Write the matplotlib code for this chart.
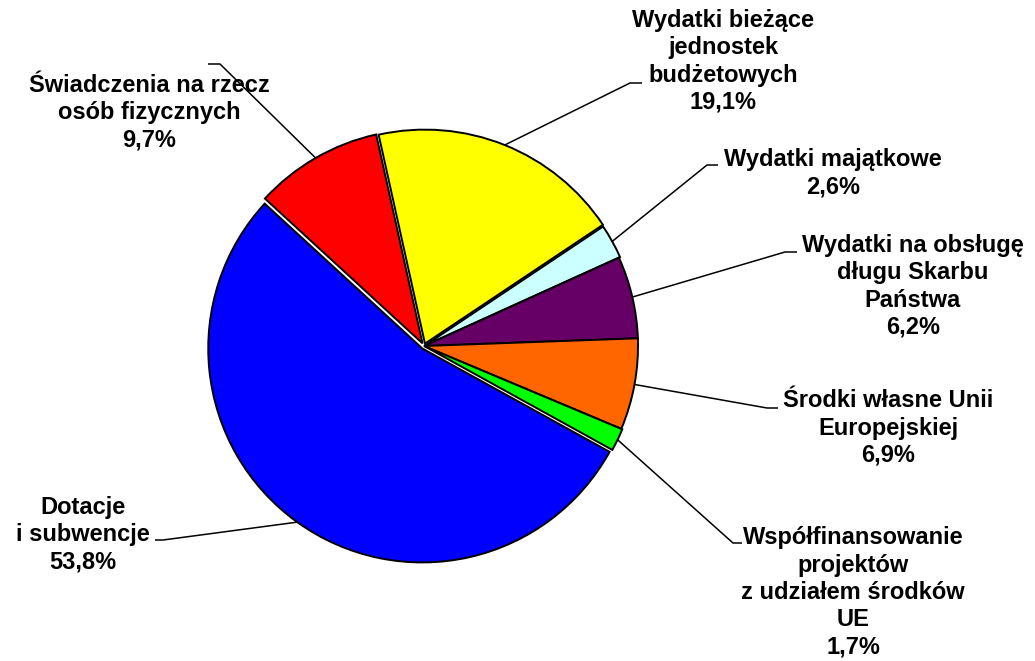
import matplotlib
matplotlib.use("Agg")
import matplotlib.pyplot as plt
import numpy as np

# ---- data (clockwise order as drawn, starting at the top) ----
categories = [
    "Wydatki bieżące\njednostek\nbudżetowych",
    "Wydatki majątkowe",
    "Wydatki na obsługę\ndługu Skarbu\nPaństwa",
    "Środki własne Unii\nEuropejskiej",
    "Współfinansowanie\nprojektów\nz udziałem środków\nUE",
    "Dotacje\ni subwencje",
    "Świadczenia na rzecz\nosób fizycznych",
]
shares = [19.1, 2.6, 6.2, 6.9, 1.7, 53.8, 9.7]

# ---- style ----
colors = ["#FFFF00", "#CCFFFF", "#660066", "#FF6600", "#00FF00", "#0000FF", "#FF0000"]
explode_frac = [0.012, 0.006, 0.0, 0.0, 0.005, 0.014, 0.014]

W, H = 1035, 661
fig = plt.figure(figsize=(W / 100, H / 100), dpi=100)
ax = fig.add_axes([0, 0, 1, 1])

cx, cy = 424, H - 346
R = 214
wedges, _ = ax.pie(shares, colors=colors, explode=[e * R for e in explode_frac],
                   startangle=102.5, counterclock=False, center=(cx, cy), radius=R,
                   frame=True, wedgeprops=dict(edgecolor="black", linewidth=1.4))
ax.set_xlim(0, W)
ax.set_ylim(0, H)
ax.set_aspect("equal")
ax.axis("off")

# label layout in pixel (image) coordinates: text centre, elbow, line end
label_pos = [(723, 61.5), (833, 173.5), (913, 286.5), (888, 428), (853, 592.5), (83, 535), (149, 112.5)]
elbows = [((630, 83), (642, 83)), ((707, 165), (718, 165)), ((785, 252), (797, 252)),
          ((767, 408), (778, 408)), ((733, 543), (742, 543)), ((163, 540), (155, 540)),
          ((220, 64), (208, 64))]

for w, cat, val, (tx, ty), (e1, e2) in zip(wedges, categories, shares, label_pos, elbows):
    mid = np.deg2rad((w.theta1 + w.theta2) / 2)
    sx = w.center[0] + w.r * np.cos(mid)
    sy = w.center[1] + w.r * np.sin(mid)
    ax.plot([sx, e1[0], e2[0]], [sy, H - e1[1], H - e2[1]], color="black", lw=1.1,
            solid_capstyle="butt", zorder=0)
    txt = cat + "\n" + f"{val:.1f}".replace(".", ",") + "%"
    ax.text(tx, H - ty, txt, ha="center", va="center", multialignment="center",
            fontsize=17, fontweight="bold", family="Liberation Sans", linespacing=1.24)

fig.savefig("out.png", dpi=100)
